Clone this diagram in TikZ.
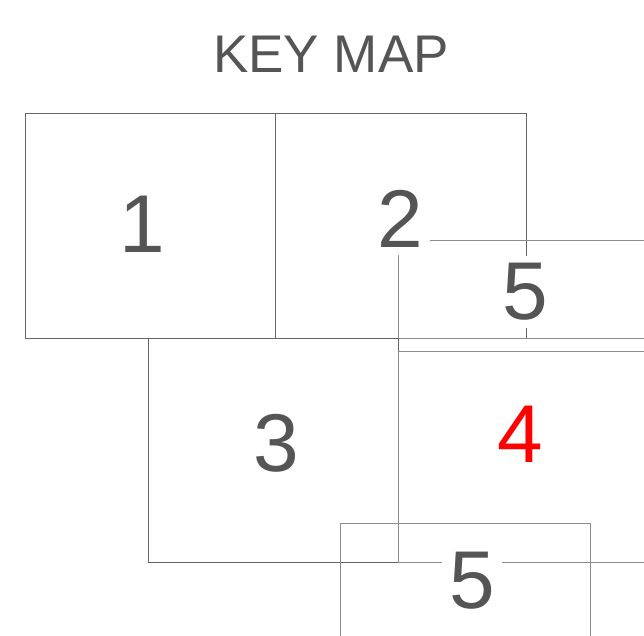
\documentclass[tikz,border=0pt]{standalone}
\usepackage{fontspec}
\setmainfont{Liberation Sans}
\definecolor{keytext}{HTML}{555555}
\definecolor{keyline}{HTML}{666666}
\definecolor{keylite}{HTML}{8C8C8C}

\begin{document}
\begin{tikzpicture}[x=1pt,y=-1pt,
  sheet/.style={draw=keyline,line width=0.9pt},
  sheetlite/.style={draw=keylite,line width=0.9pt},
  num/.style={font=\fontsize{82}{82}\selectfont,text=keytext,fill=white,inner sep=7pt},
  title/.style={font=\fontsize{53}{53}\selectfont,text=keytext}]
\useasboundingbox (0,0) rectangle (644,635);
\clip (0,0) rectangle (644,635);

\node[title] (keymap) at (331,54) {KEY MAP};

% sheets
\draw[sheet] (25,113) rectangle (275,338);
\draw[sheet] (275,113) rectangle (526,338);
\draw[sheetlite] (398,240) rectangle (660,338);
\draw[sheet] (148,338) rectangle (398,562);
\draw[sheetlite] (398,351) rectangle (660,562);
\draw[sheetlite] (340,523) rectangle (590,660);

% sheet numbers
\node[num] (n1) at (142,224) {1};
\node[num] (n2) at (400,219) {2};
\node[num] (n5a) at (525,292) {5};
\node[num] (n3) at (276,443) {3};
\node[num,text=red] (n4) at (520,434) {4};
\node[num] (n5b) at (472,581) {5};

\end{tikzpicture}
\end{document}
